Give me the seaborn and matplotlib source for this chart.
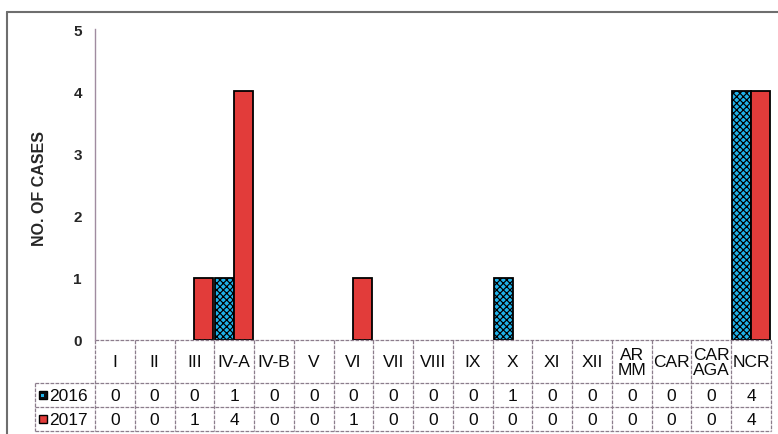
import matplotlib
matplotlib.use("Agg")
import matplotlib.pyplot as plt
import pandas as pd
import seaborn as sns
from matplotlib.patches import Rectangle
from matplotlib.lines import Line2D
from matplotlib.transforms import blended_transform_factory

# Cases per region
regions = ["I", "II", "III", "IV-A", "IV-B", "V", "VI", "VII", "VIII", "IX",
           "X", "XI", "XII", "AR\nMM", "CAR", "CAR\nAGA", "NCR"]
cases_2016 = [0, 0, 0, 1, 0, 0, 0, 0, 0, 0, 1, 0, 0, 0, 0, 0, 4]
cases_2017 = [0, 0, 1, 4, 0, 0, 1, 0, 0, 0, 0, 0, 0, 0, 0, 0, 4]
years = ["2016", "2017"]
y_ticks = [0, 1, 2, 3, 4, 5]

df = pd.DataFrame({
    "region": regions * 2,
    "year": [years[0]] * len(regions) + [years[1]] * len(regions),
    "cases": cases_2016 + cases_2017,
})

sns.set_theme(style="white")
plt.rcParams["font.family"] = ["Liberation Sans", "DejaVu Sans"]
plt.rcParams["hatch.linewidth"] = 0.85

CYAN = "#1fb2ea"
DARK = "#0b0f14"
RED = "#e23c3a"
GRID = "#8c7d8c"

W, H = 778, 435
fig = plt.figure(figsize=(W / 100, H / 100), dpi=100)
px_l, px_r, px_t, px_b = 95, 771, 30, 341
ax = fig.add_axes([px_l / W, 1 - px_b / H, (px_r - px_l) / W, (px_b - px_t) / H])

sns.barplot(data=df, x="region", y="cases", hue="year", hue_order=years,
            order=regions, palette={years[0]: CYAN, years[1]: RED},
            width=0.95, edgecolor="black", linewidth=1.3, saturation=1,
            legend=False, ax=ax)

# dense black cross-hatch turns the cyan fill into a dotted checker
for bar in ax.containers[0]:
    bar.set_hatch("xxxxx")
for cont in ax.containers:
    for bar in cont:
        if bar.get_height() == 0:
            bar.set_visible(False)

ax.set_xlim(-0.5, len(regions) - 0.5)
ax.set_ylim(0, 5)
ax.set_yticks(y_ticks)
ax.set_xticks([])
ax.set_xlabel("")
ax.tick_params(axis="y", length=0, pad=9.5, labelsize=11)
for t in ax.get_yticklabels():
    t.set_fontweight("bold")
ax.set_ylabel("NO. OF CASES", fontsize=11.5, fontweight="bold")
ax.yaxis.set_label_coords((47 - px_l) / (px_r - px_l), 0.49)
for s in ["top", "right", "bottom"]:
    ax.spines[s].set_visible(False)
ax.spines["left"].set_color("#a08ca0")
ax.spines["left"].set_linewidth(1.0)

# data table under the bars
trans = blended_transform_factory(ax.transData, ax.transAxes)
cw = (px_r - px_l) / len(regions)


def ya(py):
    return (px_b - py) / (px_b - px_t)


x_end = len(regions) - 0.5
x_lab = -0.5 - (px_l - 35) / cw
line_kw = dict(color=GRID, lw=0.9, ls=(0, (3, 1)), transform=trans, clip_on=False)
ax.add_line(Line2D([-0.5, x_end], [ya(341), ya(341)], **line_kw))
for py in (384, 408, 432):
    ax.add_line(Line2D([x_lab, x_end], [ya(py), ya(py)], **line_kw))
for i in range(len(regions) + 1):
    ax.add_line(Line2D([i - 0.5, i - 0.5], [ya(341), ya(432)], **line_kw))
ax.add_line(Line2D([x_lab, x_lab], [ya(384), ya(432)], **line_kw))

txt_kw = dict(transform=trans, ha="center", va="center", fontsize=12.5,
              color="#0a0a0a", clip_on=False)
for i, name in enumerate(regions):
    ax.text(i, ya(363), name, linespacing=0.95, **txt_kw)
    ax.text(i, ya(396.5), str(cases_2016[i]), **txt_kw)
    ax.text(i, ya(420.5), str(cases_2017[i]), **txt_kw)

# row labels with legend keys
x_key = -0.5 - (px_l - 39) / cw
x_txt = -0.5 - (px_l - 49) / cw
kw, kh = 8 / cw, 8 / (px_b - px_t)
for py, year, face in ((396, years[0], DARK), (420, years[1], RED)):
    ax.add_patch(Rectangle((x_key, ya(py) - kh / 2), kw, kh, facecolor=face,
                           edgecolor="black", linewidth=1.0, transform=trans,
                           clip_on=False))
    ax.text(x_txt, ya(py + 0.5), year, transform=trans, ha="left", va="center",
            fontsize=12.5, color="#0a0a0a", clip_on=False)
ax.add_patch(Rectangle((x_key + kw * 0.3, ya(396) - kh * 0.2), kw * 0.35, kh * 0.35,
                       facecolor=CYAN, edgecolor="none", transform=trans,
                       clip_on=False))

# outer frame (left and top edges)
fig.add_artist(Line2D([7 / W, 7 / W], [0, 1 - 13 / H], transform=fig.transFigure,
                      color="#6e6e6e", lw=1.5))
fig.add_artist(Line2D([7 / W, 1], [1 - 13 / H, 1 - 13 / H], transform=fig.transFigure,
                      color="#6e6e6e", lw=1.5))

fig.savefig("out.png", dpi=100, facecolor="white")
